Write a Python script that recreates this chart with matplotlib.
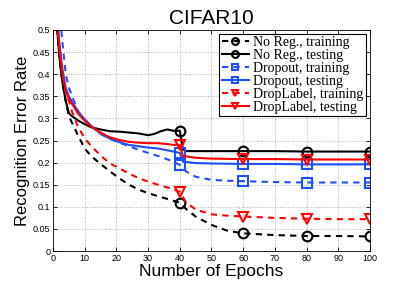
import matplotlib
matplotlib.use("Agg")
import matplotlib.pyplot as plt
import numpy as np

# --- data ---
ep_nr_test = [1, 2, 3, 4, 5, 6, 8, 10, 12, 15, 18, 21, 24, 27, 30, 32, 34, 36, 38, 40, 41, 42, 50, 60, 70, 80, 90, 100]
nr_test = [0.53, 0.44, 0.38, 0.34, 0.312, 0.305, 0.295, 0.287, 0.280, 0.275, 0.271, 0.270, 0.268, 0.266, 0.262, 0.265,
           0.271, 0.275, 0.272, 0.272, 0.230, 0.226, 0.226, 0.226, 0.226, 0.225, 0.225, 0.225]

ep_nr_train = [1, 2, 3, 4, 5, 6, 8, 10, 12, 15, 18, 21, 24, 27, 30, 34, 37, 40, 42, 45, 50, 55, 60, 70, 80, 90, 100]
nr_train = [0.53, 0.44, 0.38, 0.34, 0.305, 0.29, 0.26, 0.232, 0.215, 0.197, 0.180, 0.164, 0.150, 0.139, 0.131, 0.122,
            0.116, 0.109, 0.095, 0.078, 0.059, 0.046, 0.040, 0.036, 0.034, 0.034, 0.033]

ep_do_test = [1, 2, 3, 4, 5, 6, 8, 10, 12, 15, 18, 21, 24, 27, 30, 33, 36, 38, 40, 41, 45, 50, 60, 70, 80, 90, 100]
do_test = [0.56, 0.47, 0.41, 0.37, 0.35, 0.338, 0.315, 0.298, 0.284, 0.265, 0.254, 0.246, 0.240, 0.237, 0.234, 0.232,
           0.228, 0.225, 0.222, 0.202, 0.199, 0.198, 0.197, 0.197, 0.196, 0.196, 0.196]

ep_do_train = [2, 3, 4, 5, 6, 8, 10, 12, 15, 18, 21, 24, 27, 30, 34, 37, 40, 42, 45, 50, 55, 60, 70, 80, 90, 100]
do_train = [0.55, 0.47, 0.40, 0.37, 0.35, 0.315, 0.296, 0.282, 0.265, 0.254, 0.245, 0.237, 0.229, 0.222, 0.213, 0.205,
            0.195, 0.180, 0.168, 0.161, 0.159, 0.158, 0.156, 0.155, 0.155, 0.155]

ep_dl_test = [1, 2, 3, 4, 5, 6, 8, 10, 12, 15, 18, 21, 24, 27, 30, 33, 36, 38, 40, 41, 45, 50, 60, 70, 80, 90, 100]
dl_test = [0.55, 0.46, 0.40, 0.36, 0.345, 0.333, 0.31, 0.295, 0.282, 0.268, 0.257, 0.251, 0.247, 0.245, 0.244, 0.244,
           0.242, 0.240, 0.240, 0.215, 0.211, 0.209, 0.208, 0.208, 0.207, 0.207, 0.207]

ep_dl_train = [1, 2, 3, 4, 5, 6, 7, 8, 10, 12, 15, 18, 21, 24, 27, 30, 34, 37, 40, 42, 45, 50, 55, 60, 70, 80, 90, 100]
dl_train = [0.55, 0.46, 0.40, 0.36, 0.34, 0.315, 0.297, 0.28, 0.255, 0.238, 0.216, 0.198, 0.187, 0.175, 0.165, 0.157,
            0.148, 0.142, 0.134, 0.110, 0.094, 0.083, 0.080, 0.078, 0.075, 0.073, 0.072, 0.072]

labels = ["No Reg., training", "No Reg., testing", "Dropout, training", "Dropout, testing",
          "DropLabel, training", "DropLabel, testing"]
marker_epochs = [40, 60, 80, 100]

fig = plt.figure(figsize=(4.09, 2.83), dpi=100)
ax = fig.add_axes([0.1296, 0.113, 0.775, 0.781])

series = [
    (ep_nr_train, nr_train, 'k', '--', 'o'),
    (ep_nr_test, nr_test, 'k', '-', 'o'),
    (ep_do_train, do_train, '#1f4fff', '--', 's'),
    (ep_do_test, do_test, '#1f4fff', '-', 's'),
    (ep_dl_train, dl_train, '#ff0000', '--', 'v'),
    (ep_dl_test, dl_test, '#ff0000', '-', 'v'),
]
for (ex, ys, c, ls, m), lab in zip(series, labels):
    idx = [ex.index(e) for e in marker_epochs]
    ax.plot(ex, ys, color=c, ls=ls, lw=1.5, marker=m, markevery=idx, ms=7,
            mfc='none', mec=c, mew=1.5, label=lab, dashes=(3, 2.5) if ls == '--' else (None, None))

ax.set_xlim(0, 100)
ax.set_ylim(0, 0.5)
ax.set_xticks(np.arange(0, 101, 10))
ax.set_yticks(np.arange(0, 0.501, 0.05))
ax.set_yticklabels(['0', '0.05', '0.1', '0.15', '0.2', '0.25', '0.3', '0.35', '0.4', '0.45', '0.5'])
ax.tick_params(direction='in', top=True, right=True, labelsize=6.5, length=3, width=0.6, pad=2)
for lab in ax.get_xticklabels() + ax.get_yticklabels():
    lab.set_fontfamily('Liberation Sans')
ax.grid(True, ls=':', color='#b0b0b0', lw=0.7)
for s in ax.spines.values():
    s.set_linewidth(0.6)

ax.set_title('CIFAR10', fontsize=15, family='Liberation Sans', pad=4)
ax.set_xlabel('Number of Epochs', fontsize=12.5, family='Liberation Sans', labelpad=1)
ax.set_ylabel('Recognition Error Rate', fontsize=12, family='Liberation Sans', labelpad=2)

leg = ax.legend(loc='upper right', prop={'family': 'Liberation Serif', 'size': 10},
                fancybox=False, edgecolor='k', framealpha=1, handlelength=2.0, handletextpad=0.3,
                borderpad=0.15, labelspacing=0.0, markerscale=0.7, borderaxespad=0.3)
leg.get_frame().set_linewidth(0.8)

fig.savefig('out.png', dpi=100)
